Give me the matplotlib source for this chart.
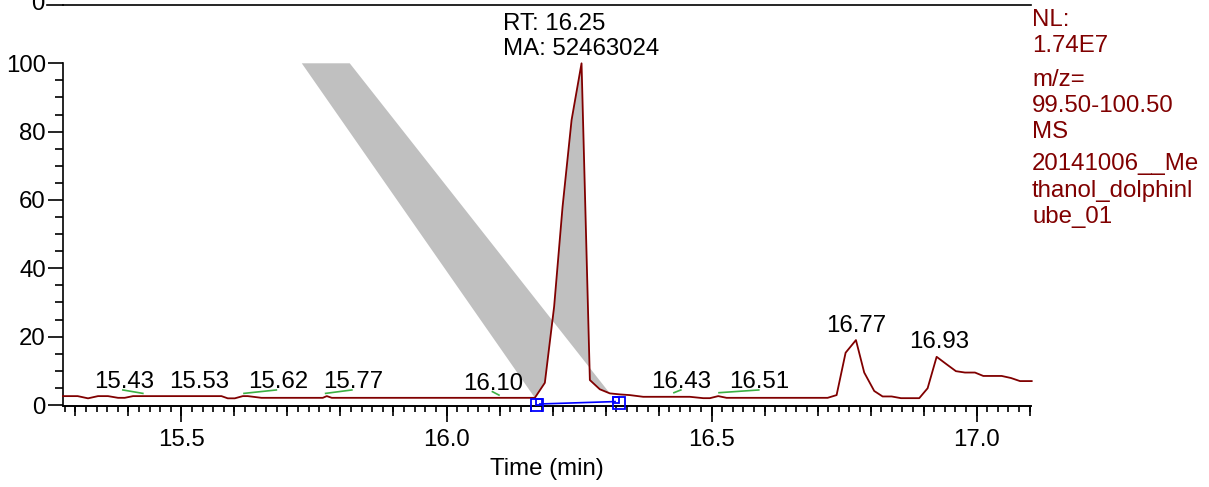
import matplotlib
matplotlib.use("Agg")
import matplotlib.pyplot as plt
from matplotlib.ticker import MultipleLocator, FixedLocator
from matplotlib.lines import Line2D

plt.rcParams['font.family'] = ['Liberation Sans', 'DejaVu Sans']

# ---- data ----
time_min = [15.2766, 15.3043, 15.3238, 15.3426, 15.3615, 15.3804, 15.3930, 15.4087,
            15.5755, 15.5874, 15.6006, 15.6157, 15.6251, 15.6510, 15.7666, 15.7742,
            15.7836, 16.1666, 16.1855, 16.2030, 16.2189, 16.2359, 16.2547, 16.2704,
            16.2892, 16.3081, 16.3270, 16.3458, 16.3710, 16.4590, 16.4842, 16.4968,
            16.5125, 16.5283, 16.7189, 16.7358, 16.7528, 16.7723, 16.7879, 16.8068,
            16.8226, 16.8396, 16.8572, 16.8917, 16.9075, 16.9245, 16.9434, 16.9609,
            16.9779, 16.9968, 17.0125, 17.0472, 17.0647, 17.0817, 17.1038]
rel_abund = [2.6, 2.6, 1.95, 2.6, 2.6, 2.1, 2.1, 2.6,
             2.6, 1.95, 1.95, 2.6, 2.6, 2.1, 2.1, 2.6,
             2.1, 2.1, 6.5, 28.8, 58.0, 83.4, 100.0, 7.3,
             4.6, 3.4, 3.1, 2.9, 2.4, 2.4, 2.0, 2.0,
             2.6, 2.1, 2.1, 2.9, 15.3, 19.0, 9.5, 4.1,
             2.5, 2.5, 2.0, 2.0, 4.9, 14.1, 11.9, 9.9,
             9.5, 9.5, 8.5, 8.5, 7.9, 7.0, 7.0]

peak_labels = ["15.43", "15.53", "15.62", "15.77", "16.10", "16.43", "16.51", "16.77", "16.93"]
peak_label_x = [15.3911, 15.5336, 15.6817, 15.8238, 16.0879, 16.4426, 16.5889, 16.7736, 16.9285]
peak_label_y = [4.9, 4.9, 4.9, 4.9, 4.4, 4.9, 4.9, 21.45, 16.6]

# green label-indicator ticks (x0, x1, y0, y1)
green_x0 = [15.3895, 15.618, 15.772, 16.0866, 16.429, 16.514]
green_x1 = [15.4272, 15.679, 15.8215, 16.099, 16.442, 16.589]
green_y0 = [4.4, 3.4, 3.4, 3.9, 3.6, 3.6]
green_y1 = [3.4, 4.4, 4.4, 2.9, 4.4, 4.4]

# integrated peak
peak_start_idx = 17
peak_end_idx = 25
shade_top_x = [15.727, 15.8175]
baseline_x = [16.176, 16.318]
baseline_y = [0.3, 1.0]

x_ticks = [15.5, 16.0, 16.5, 17.0]
x_tick_labels = ["15.5", "16.0", "16.5", "17.0"]
y_ticks = [0, 20, 40, 60, 80, 100]

info_lines = ["NL:", "1.74E7", "m/z=", "99.50-100.50", "MS", "20141006__Me",
              "thanol_dolphinl", "ube_01"]
info_y_px = [20, 46, 80, 106, 132, 164, 191, 217]

W, H = 1209, 487
fig = plt.figure(figsize=(W / 100, H / 100), dpi=100)
ax = fig.add_axes([63 / W, 82 / H, 968 / W, 341.7 / H])

FS = 17.3
trace_c = '#800000'

# shaded area (band + peak) as one polygon
poly_x = [shade_top_x[0]] + time_min[peak_start_idx:peak_end_idx + 1] + [shade_top_x[1]]
poly_y = [100] + rel_abund[peak_start_idx:peak_end_idx + 1] + [100]
ax.fill(poly_x, poly_y, color='#c0c0c0', lw=0, zorder=1)

ax.plot(time_min, rel_abund, color=trace_c, lw=1.3, zorder=3, clip_on=False)

for a, b, c, d in zip(green_x0, green_x1, green_y0, green_y1):
    ax.plot([a, b], [c, d], color='#3cb043', lw=1.2, zorder=2)

for lab, xx, yy in zip(peak_labels, peak_label_x, peak_label_y):
    ax.text(xx, yy, lab, ha='center', va='baseline', fontsize=FS, color='black')

ax.text(16.254, 102.4, "RT: 16.25\nMA: 52463024", ha='center', va='baseline',
        multialignment='left', fontsize=FS, color='black', linespacing=1.2)

# integration baseline (blue)
ax.plot(baseline_x, baseline_y, color='#0000ff', lw=1.2, zorder=4, clip_on=False)
ax.plot([16.1714, 16.3255], [0.0, 0.6], ls='none', marker='s', ms=8.0, mfc='none',
        mec='#0000ff', mew=1.3, zorder=4, clip_on=False)
ax.plot([16.1745, 16.320], [0.9, 1.5], ls='none', marker='s', ms=4.3, mfc='none',
        mec='#0000ff', mew=1.3, zorder=4, clip_on=False)

ax.set_xlim(15.2766, 17.1025)
ax.set_ylim(0, 100)
for s in ['top', 'right']:
    ax.spines[s].set_visible(False)
ax.spines['left'].set_linewidth(1.2)
ax.spines['bottom'].set_linewidth(1.2)
ax.spines['bottom'].set_position(('outward', 1))

ax.set_xticks(x_ticks)
ax.set_xticklabels(x_tick_labels)
ax.xaxis.set_minor_locator(MultipleLocator(0.02))
ax.set_yticks(y_ticks)
ax.yaxis.set_minor_locator(MultipleLocator(5))
ax.tick_params(axis='x', which='major', length=11.5, width=1.2, labelsize=FS, pad=4.5)
ax.tick_params(axis='x', which='minor', length=4.3, width=1.2)
ax.tick_params(axis='y', which='major', length=10.8, width=1.2, labelsize=FS, pad=1.5)
ax.tick_params(axis='y', which='minor', length=5.8, width=1.2)

sec = ax.secondary_xaxis('bottom')
sec.spines['bottom'].set_position(('outward', 1))
sec.spines['bottom'].set_linewidth(1.2)
sec.xaxis.set_major_locator(MultipleLocator(0.1))
sec.tick_params(axis='x', which='major', length=7.2, width=1.2, labelbottom=False)
sec.xaxis.set_minor_locator(FixedLocator([]))

ax.set_xlabel("Time (min)", fontsize=FS, labelpad=5.5)

# remnant of the panel above
ytop = 1 - 4.5 / H
fig.add_artist(Line2D([63 / W, 1031 / W], [ytop, ytop], color='black', lw=1.2))
fig.add_artist(Line2D([47 / W, 63 / W], [ytop, ytop], color='black', lw=1.2))
fig.text(45 / W, ytop, "0", ha='right', va='center', fontsize=FS)

for line, ypx in zip(info_lines, info_y_px):
    fig.text(1032 / W, 1 - ypx / H, line, ha='left', va='center', fontsize=FS, color=trace_c)

fig.savefig("out.png", dpi=100)
